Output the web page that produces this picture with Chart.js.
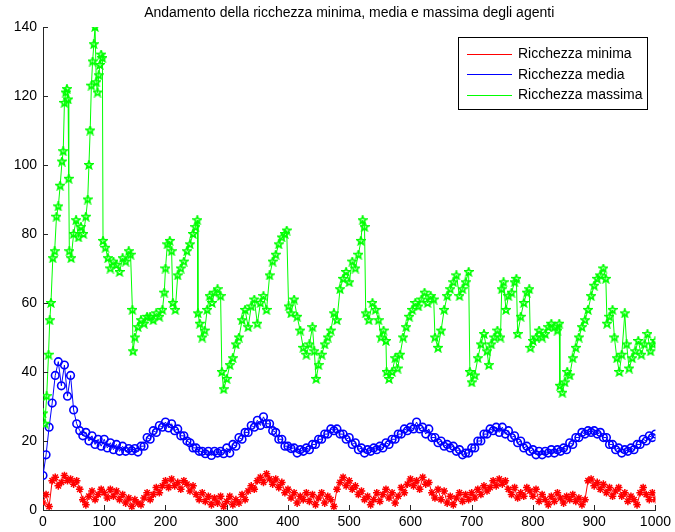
<!DOCTYPE html>
<html>
<head>
<meta charset="utf-8">
<title>Ricchezza degli agenti</title>
<script src="https://cdn.jsdelivr.net/npm/chart.js@4.4.1/dist/chart.umd.min.js"></script>
<style>
  html, body { margin: 0; padding: 0; background: #fff; }
  #wrap { width: 675px; height: 532px; }
</style>
</head>
<body>
<div id="wrap"><canvas id="wealthChart" width="675" height="532"></canvas></div>
<script>
// iterazioni campionate (ogni 5 passi)
const iterations = [0,5,10,15,20,25,30,35,40,45,50,55,60,65,70,75,80,85,90,95,
  100,105,110,115,120,125,130,135,140,145,150,155,160,165,170,175,180,185,190,195,
  200,205,210,215,220,225,230,235,240,245,250,255,260,265,270,275,280,285,290,295,
  300,305,310,315,320,325,330,335,340,345,350,355,360,365,370,375,380,385,390,395,
  400,405,410,415,420,425,430,435,440,445,450,455,460,465,470,475,480,485,490,495,
  500,505,510,515,520,525,530,535,540,545,550,555,560,565,570,575,580,585,590,595,
  600,605,610,615,620,625,630,635,640,645,650,655,660,665,670,675,680,685,690,695,
  700,705,710,715,720,725,730,735,740,745,750,755,760,765,770,775,780,785,790,795,
  800,805,810,815,820,825,830,835,840,845,850,855,860,865,870,875,880,885,890,895,
  900,905,910,915,920,925,930,935,940,945,950,955,960,965,970,975,980,985,990,995,
  1000];

const minWealth = [2,4.5,1,8.5,9.5,7,8,10,8.5,9,7.5,8.5,6,3,1.5,4,5.5,3,4.5,6,
  5,3.5,6,4,5.5,3,4.5,2,3.5,1,3,2,1.5,3.5,5,3,4.5,6.5,5,7,
  8.5,6.5,9,7,8,6,8.5,7.5,5.5,7,4.5,3,5,2.5,4,1.5,3.5,2,4,1,
  2.5,4,1.5,3,2,4.5,3,5.5,7,6,8.5,9.5,8,10.5,9,7.5,9,6.5,8,5,
  6,3.5,5,2,4,3,5,2.5,4.5,1.5,3.5,5,2,4,3,1,6,8,9.5,7,
  8.5,6,7,4.5,5.5,3,4,1.5,3,5,2.5,4.5,6,3.5,5,2,4,6.5,5,7.5,
  9,7,8.5,6,9.5,7.5,8,5,3.5,6,3,5.5,2,4,1.5,3.5,5,2.5,4.5,3,
  5,3.5,6,4.5,7,5.5,6.5,8.5,7,9,7.5,8.5,6,4.5,6.5,3.5,5,4,6.5,5.5,
  4,6,2.5,4.5,3,1.5,4,2.5,5,3.5,2,4,3,4.5,2.5,3.5,1.5,3,8.5,9,
  7,8,6,7.5,5,6.5,4,5.5,6.5,4,5,2.5,4,3,1.5,5,6.5,4.5,3,5,
  3];

const meanWealth = [10,16,24,31,39,43,36,42,33,39,29,25,23,21.5,22.5,20,21.5,19,20.5,18.5,
  20.5,18,19.5,17.5,19,17,18.5,17,17.8,17.2,17.8,16.8,18.5,18.5,21,20.5,23,22.5,24.5,24,
  25.5,23.8,25,23,23.5,21.5,21.5,20,19.5,18,18,17,17,16.3,17,15.8,17,16.5,17,16.3,
  18,16.5,19,18.5,21,20.5,22.5,22.5,24.5,24,26,24.5,27,25,25,23,22.5,20.5,20.5,18.5,
  18.5,17.8,18,16.5,17.5,17,18,17.5,19,19,20.5,20.5,22,22,23.5,23,23.5,22,22,20.5,
  21,19,19.5,17.5,18,16.5,17.5,17,18,17.5,18.5,18,19.5,19,20.5,20.5,22,22,23.5,23,
  24,23.5,25.5,23.5,24,22,23.5,21,21,19.5,20,18.5,19,18,18.5,17,17.5,16,16.5,16.5,
  18,18,20,20,22,22,23.5,23,24,22.5,24,22,23,21,21.5,19.5,20,18,18.5,17,
  17.5,16,17,16,17,16.5,17.5,16.5,17.5,17,18,17.5,19.5,19,21,21,22.5,22,23,22.5,
  23,22,22.5,21,21,19,19,17.5,18,16.5,17.5,17,18,17.5,19,19,20.5,20,21.5,21,
  22];

// il massimo ha salti verticali: iterazioni proprie
const maxIter = [0,3,6,9,11,13,16,19,22,25,28,31,33,35,37,39,41,42,43,46,
  50,54,58,62,66,70,73,75,77,79,81,83,85,87,89,91,93,95,97,98,
  102,106,110,115,120,125,130,135,140,143,146,147,150,155,160,165,170,175,180,185,
  190,195,198,200,203,207,210,212,216,220,225,230,235,240,245,249,252,253,256,260,
  264,268,272,276,280,285,290,292,295,300,305,310,315,320,325,330,335,340,345,350,
  355,360,365,370,375,380,385,390,395,398,401,405,410,415,420,425,430,435,440,443,
  446,450,455,460,465,470,475,480,485,490,495,500,505,510,515,519,522,525,527,532,
  538,543,548,552,556,560,561,565,570,575,579,583,588,593,598,603,608,613,618,623,
  628,633,638,640,645,650,655,660,665,670,675,680,685,690,695,697,700,705,710,715,
  720,725,728,732,737,742,747,749,752,756,760,765,770,773,775,780,785,790,794,796,
  800,805,810,815,820,825,830,835,840,843,844,848,852,856,860,865,870,875,880,885,
  890,895,900,905,910,915,919,921,925,930,933,937,941,945,950,953,957,962,967,972,
  977,982,987,992,996,1000];

const maxWealth = [28,25,33,45,55,60,73,75,85,88,94,101,104,118,121,122,119,96,75,73,
  80,84,79,82,80,85,90,100,110,123,130,135,140,124,121,126,129,132,131,78,
  76,73,70,72,71,69,73,72,75,74,58,46,50,53,55,54,56,56,55,57,
  56,58,63,70,77,78,75,60,58,68,70,72,75,77,80,82,84,57,54,50,
  52,58,62,60,63,64,62,40,35,38,42,44,48,50,55,58,53,59,61,54,
  60,62,58,68,72,74,77,79,80,81,59,57,61,56,52,47,45,48,53,46,
  38,42,45,48,50,52,57,55,64,67,69,66,72,70,74,78,84,82,57,55,
  60,58,55,50,52,49,40,38,40,44,41,45,50,53,56,58,60,59,61,63,
  60,62,61,50,47,52,58,62,64,66,68,62,64,66,69,40,37,39,44,48,
  51,46,42,48,50,52,50,64,66,58,62,63,66,67,51,56,60,63,64,47,
  49,50,52,50,51,53,54,53,52,54,36,34,37,40,39,44,47,50,53,55,
  58,62,65,67,68,70,67,54,56,58,50,44,40,45,57,48,41,44,46,49,
  45,48,51,46,48,49];

const seriesLabels = ['Ricchezza minima', 'Ricchezza media', 'Ricchezza massima'];
const seriesColors = ['#ff0000', '#0000ff', '#00ff00'];
const xTicks = [0,100,200,300,400,500,600,700,800,900,1000];
const yTicks = [0,20,40,60,80,100,120,140];

const FONT = '"Liberation Sans", Arial, sans-serif';

function toPoints(xs, ys) {
  return xs.map((x, i) => ({ x: x, y: ys[i] }));
}

// marker a pentagramma (vuoto)
function makePentagram(size, color) {
  const c = document.createElement('canvas');
  c.width = size; c.height = size;
  const g = c.getContext('2d');
  const cx = size / 2, cy = size / 2, R = size / 2 - 0.8, r = R * 0.42;
  g.beginPath();
  for (let i = 0; i < 10; i++) {
    const a = -Math.PI / 2 + i * Math.PI / 5;
    const rad = i % 2 === 0 ? R : r;
    const px = cx + rad * Math.cos(a), py = cy + rad * Math.sin(a);
    if (i === 0) g.moveTo(px, py); else g.lineTo(px, py);
  }
  g.closePath();
  g.strokeStyle = color;
  g.lineWidth = 1.6;
  g.stroke();
  return c;
}

// tacche verso l'interno, titolo e legenda in stile matlab
const decorations = {
  id: 'decorations',
  afterDraw(chart) {
    const { ctx, chartArea, scales } = chart;
    ctx.save();
    ctx.strokeStyle = '#262626';
    ctx.lineWidth = 1;
    ctx.beginPath();
    xTicks.forEach(v => {
      const px = Math.round(scales.x.getPixelForValue(v)) + 0.5;
      ctx.moveTo(px, chartArea.bottom);
      ctx.lineTo(px, chartArea.bottom - 5);
    });
    yTicks.forEach(v => {
      const py = Math.round(scales.y.getPixelForValue(v)) + 0.5;
      ctx.moveTo(chartArea.left, py);
      ctx.lineTo(chartArea.left + 5, py);
    });
    ctx.stroke();

    ctx.fillStyle = '#000';
    ctx.font = '14px ' + FONT;
    ctx.textAlign = 'center';
    ctx.textBaseline = 'middle';
    ctx.fillText('Andamento della ricchezza minima, media e massima degli agenti',
      (chartArea.left + chartArea.right) / 2, 13);

    // riquadro legenda
    const bx = 458.5, by = 37.5, bw = 189, bh = 72;
    ctx.fillStyle = '#fff';
    ctx.fillRect(bx, by, bw, bh);
    ctx.strokeStyle = '#000';
    ctx.strokeRect(bx, by, bw, bh);
    ctx.textAlign = 'left';
    seriesLabels.forEach((label, i) => {
      const ly = 53.5 + i * 20.5;
      ctx.strokeStyle = seriesColors[i];
      ctx.beginPath();
      ctx.moveTo(467, Math.round(ly) + 0.5);
      ctx.lineTo(512, Math.round(ly) + 0.5);
      ctx.stroke();
      ctx.fillStyle = '#000';
      ctx.fillText(label, 518, ly + 1);
    });
    ctx.restore();
  }
};

const ctx = document.getElementById('wealthChart').getContext('2d');
new Chart(ctx, {
  type: 'line',
  data: {
    datasets: [{
      label: seriesLabels[0],
      data: toPoints(iterations, minWealth),
      borderColor: seriesColors[0],
      borderWidth: 1,
      pointStyle: 'star',
      pointRadius: 3.8,
      pointBorderColor: seriesColors[0],
      pointBorderWidth: 1.5,
      pointBackgroundColor: 'rgba(0,0,0,0)',
      order: 2
    }, {
      label: seriesLabels[1],
      data: toPoints(iterations, meanWealth),
      borderColor: seriesColors[1],
      borderWidth: 1,
      pointStyle: 'circle',
      pointRadius: 3.8,
      pointBorderColor: seriesColors[1],
      pointBorderWidth: 1.6,
      pointBackgroundColor: 'rgba(0,0,0,0)',
      order: 1
    }, {
      label: seriesLabels[2],
      data: toPoints(maxIter, maxWealth),
      borderColor: seriesColors[2],
      borderWidth: 1,
      pointStyle: makePentagram(10, seriesColors[2]),
      pointRadius: 5,
      order: 0
    }]
  },
  options: {
    responsive: false,
    animation: false,
    layout: { padding: { top: 27, right: 15, left: 0, bottom: 0 } },
    plugins: {
      legend: { display: false },
      tooltip: { enabled: false },
      title: { display: false }
    },
    elements: { line: { tension: 0 } },
    scales: {
      x: {
        type: 'linear',
        min: 0,
        max: 1000,
        afterFit: s => { s.height = 22; },
        afterBuildTicks: s => { s.ticks = xTicks.map(v => ({ value: v })); },
        grid: { display: false, drawTicks: false },
        border: { display: true, color: '#262626', width: 1 },
        ticks: { color: '#000', padding: 4, maxRotation: 0, callback: v => String(v),
          font: { family: FONT, size: 14 } }
      },
      y: {
        min: 0,
        max: 140,
        afterFit: s => { s.width = 43; },
        afterBuildTicks: s => { s.ticks = yTicks.map(v => ({ value: v })); },
        grid: { display: false, drawTicks: false },
        border: { display: true, color: '#262626', width: 1 },
        ticks: { color: '#000', padding: 6, callback: v => String(v),
          font: { family: FONT, size: 14 } }
      }
    }
  },
  plugins: [decorations]
});
</script>
</body>
</html>
